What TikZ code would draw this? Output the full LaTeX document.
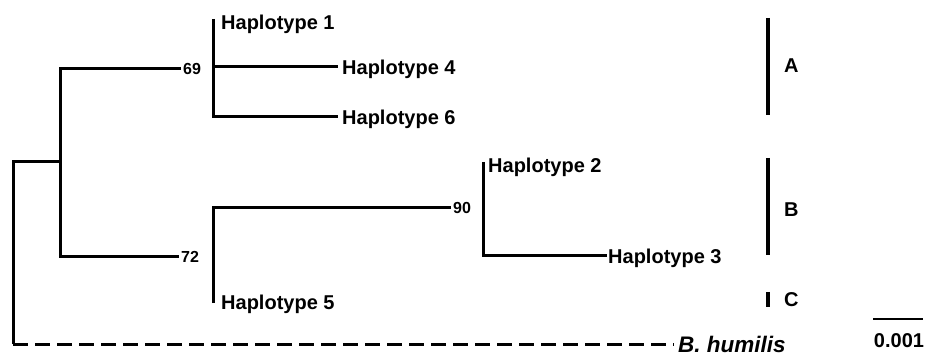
\documentclass[tikz,border=0pt]{standalone}
\usepackage{fontspec}
\setmainfont{Liberation Sans}
\begin{document}
\begin{tikzpicture}[x=1pt,y=-1pt]
    \definecolor{lineage_color}{RGB}{0,0,0}
    \tikzstyle{every node} = [anchor=west, inner sep=0pt, text depth=0pt]
    \tikzstyle{hap} = [inner xsep=4pt, font=\fontsize{20}{23}\selectfont\bfseries]
    \tikzstyle{boot} = [inner xsep=2pt, font=\fontsize{16}{18}\selectfont\bfseries]
    \tikzstyle{lineage} = [draw=lineage_color, line width=3pt]
    \tikzstyle{outgroup} = [draw=lineage_color, line width=3pt, dash pattern=on 15pt off 7pt]
    \tikzstyle{clade} = [draw=lineage_color, line width=3.2pt]
    \useasboundingbox (0,0) rectangle (926,355);
    \coordinate (root) at (13,162);
    \coordinate (rootb) at (13,344);
    \coordinate (n1) at (60,162);
    \coordinate (c1a) at (213,19);
    \coordinate (c1m) at (213,67);
    \coordinate (c1b) at (213,117);
    \coordinate (c2a) at (213,208);
    \coordinate (c2b) at (213,303);
    \coordinate (c3a) at (483,162);
    \coordinate (c3b) at (483,256);
    \node[boot] (b69) at (181,69) {69};
    \node[boot] (b72) at (179,257) {72};
    \node[boot] (b90) at (451,208) {90};
    \node[hap] (h1) at (217,22) {Haplotype 1};
    \node[hap] (h4) at (338,67) {Haplotype 4};
    \node[hap] (h6) at (338,117) {Haplotype 6};
    \node[hap] (h5) at (217,302) {Haplotype 5};
    \node[hap] (h2) at (484,165) {Haplotype 2};
    \node[hap, inner xsep=1pt] (h3) at (607,256) {Haplotype 3};
    \node[hap, font=\fontsize{22.5}{25}\selectfont\bfseries\itshape] (hum) at (674,344) {B. humilis};
    \path[lineage] (rootb) -- (root) -- (n1);
    \path[lineage] (b69.west) -| (n1) |- (b72.west);
    \path[lineage] (c1a) -- (c1b) -- (h6.west);
    \path[lineage] (c1m) -- (h4.west);
    \path[lineage] (c2b) -- (c2a) -- (b90.west);
    \path[lineage] (c3a) -- (c3b) -- (h3.west);
    \path[outgroup] (rootb) -- (hum.west);
    % clades
    \coordinate (ga1) at (768,18);
    \coordinate (ga2) at (768,115);
    \coordinate (gb1) at (768,158);
    \coordinate (gb2) at (768,255);
    \coordinate (gc1) at (768,292);
    \coordinate (gc2) at (768,307);
    \node[hap] (ga) at (780,66) {A};
    \node[hap] (gb) at (780,210) {B};
    \node[hap] (gc) at (780,300) {C};
    \path[clade] (ga1) -- (ga2);
    \path[clade] (gb1) -- (gb2);
    \path[clade] (gc1) -- (gc2);
    % scale
    \coordinate (s1) at (873,319);
    \coordinate (s2) at (923,319);
    \path[draw=lineage_color, line width=2.4pt] (s1) -- (s2);
    \node[hap, anchor=center] (sc) at (899,341) {0.001};
\end{tikzpicture}
\end{document}
